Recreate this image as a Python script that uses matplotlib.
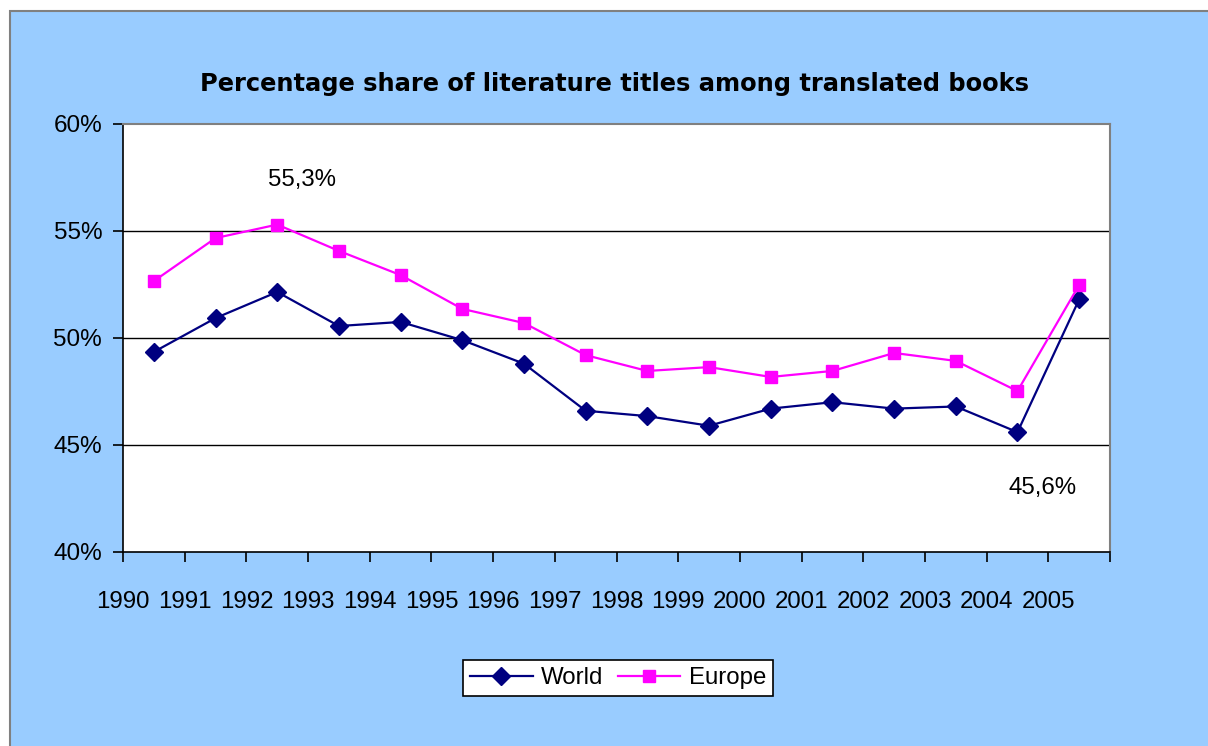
import matplotlib.pyplot as plt
from matplotlib.patches import Rectangle
from matplotlib.ticker import FuncFormatter

# data
years = ['1990', '1991', '1992', '1993', '1994', '1995', '1996', '1997',
         '1998', '1999', '2000', '2001', '2002', '2003', '2004', '2005']
world = [49.35, 50.93, 52.15, 50.56, 50.75, 49.9, 48.8, 46.6,
         46.35, 45.9, 46.7, 47.0, 46.7, 46.8, 45.6, 51.8]
europe = [52.66, 54.67, 55.3, 54.07, 52.94, 51.36, 50.7, 49.2,
          48.46, 48.64, 48.18, 48.46, 49.3, 48.93, 47.52, 52.48]

W, H = 1208, 746
fig = plt.figure(figsize=(W / 100, H / 100), dpi=100)
fig.patch.set_facecolor('white')

# light blue chart area with grey border
fig.patches.append(Rectangle((9.5 / W, -0.01), 1.05, 1 - 11 / H + 0.01,
                             transform=fig.transFigure, facecolor='#99CCFF',
                             edgecolor='#808080', linewidth=1.5, zorder=-5))

ax = fig.add_axes([123 / W, 1 - 552 / H, (1110 - 123) / W, (552 - 124) / H])
ax.set_facecolor('white')
ax.set_zorder(1)

x = [i + 0.5 for i in range(len(years))]
ax.plot(x, world, color='#000080', lw=1.6, marker='D', ms=9,
        label='World', zorder=3)
ax.plot(x, europe, color='#FF00FF', lw=1.6, marker='s', ms=9,
        label='Europe', zorder=3)

ax.set_xlim(0, len(years))
ax.set_ylim(40, 60)
ax.set_yticks([40, 45, 50, 55, 60])
ax.yaxis.set_major_formatter(FuncFormatter(lambda v, p: '%d%%' % v))
ax.set_xticks(range(len(years) + 1))
ax.set_xticklabels(years + [''])

for y in [45, 50, 55]:
    ax.axhline(y, color='black', lw=1, zorder=1)

for s in ['left', 'bottom']:
    ax.spines[s].set_color('black')
    ax.spines[s].set_linewidth(1.2)
for s in ['top', 'right']:
    ax.spines[s].set_color('#808080')
    ax.spines[s].set_linewidth(1.5)

font = 'Liberation Sans'
ax.tick_params(axis='x', direction='out', length=7, width=1.2, pad=21,
               labelsize=17.3)
ax.tick_params(axis='y', direction='out', length=7, width=1.2, pad=8,
               labelsize=17.5)
for lab in ax.get_xticklabels() + ax.get_yticklabels():
    lab.set_fontfamily(font)

# data labels
ax.text(2.9, 57.38, '55,3%', ha='center', va='center', fontsize=17.3,
        family=font)
ax.text(14.9, 43.0, '45,6%', ha='center', va='center', fontsize=17.3,
        family=font)

fig.text(615 / W, 1 - 84 / H,
         'Percentage share of literature titles among translated books',
         ha='center', va='center', fontsize=17.4, fontweight='bold',
         family='DejaVu Sans')

leg = fig.legend(loc='center', bbox_to_anchor=(618 / W, 1 - 678 / H), ncol=2,
                 frameon=True, fancybox=False, edgecolor='black',
                 framealpha=1, prop={'family': font, 'size': 17.3},
                 handlelength=2.6, columnspacing=0.6, handletextpad=0.35,
                 borderpad=0.3)
leg.get_frame().set_linewidth(1.2)
leg.get_frame().set_facecolor('white')

fig.savefig('out.png', dpi=100)
